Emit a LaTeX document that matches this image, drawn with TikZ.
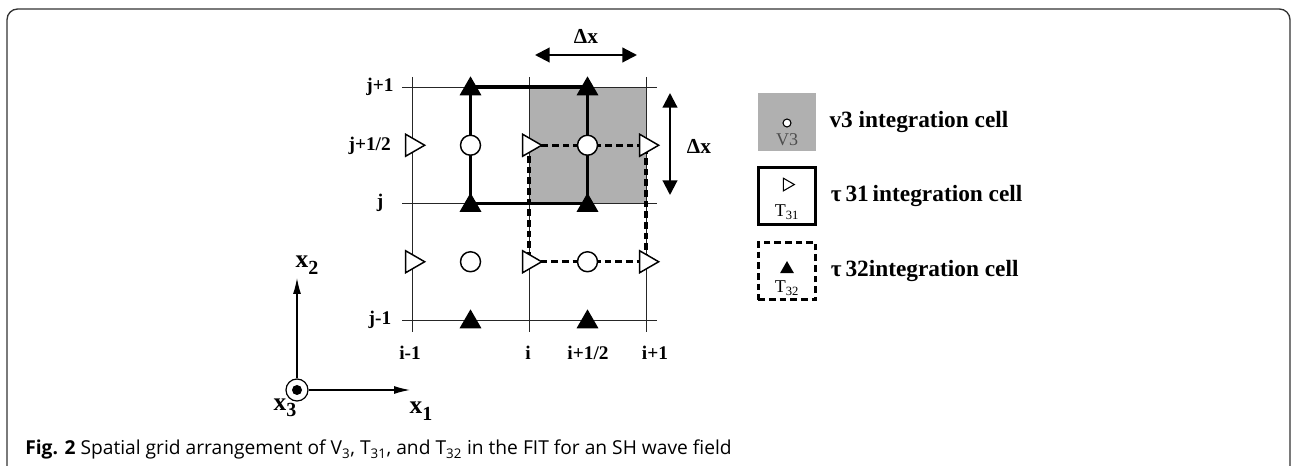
\documentclass[tikz,border=0pt]{standalone}
\usepackage{fontspec}
\setmainfont{Liberation Serif}
\newfontfamily\capfont{Open Sans}
\usetikzlibrary{shapes.geometric, arrows.meta, positioning, calc}
\definecolor{cellgray}{HTML}{B0B0B0}
\definecolor{framecol}{HTML}{333333}
\tikzstyle{arrow}=[{Triangle[length=11pt,width=11pt]}-{Triangle[length=11pt,width=11pt]}, line width=1.6pt]
\tikzstyle{axis}=[-{Latex[length=12pt,width=6pt]}, line width=0.9pt]
\newcommand{\axsub}[1]{\raisebox{-0.55ex}{\fontsize{15}{15}\selectfont #1}}

\begin{document}
\begin{tikzpicture}[x=0.75pt, y=-0.75pt,
  gridline/.style={line width=0.6pt, black!85},
  cellline/.style={line width=2.4pt},
  celldash/.style={line width=2.4pt, dash pattern=on 5pt off 3pt},
  vdot/.style={circle, draw, fill=white, line width=1.1pt,
               minimum size=15pt, inner sep=0pt},
  tone/.style={regular polygon, regular polygon sides=3, shape border rotate=-90,
               draw, fill=white, line width=1.1pt, minimum size=19pt, inner sep=0pt},
  ttwo/.style={regular polygon, regular polygon sides=3, fill=black,
               minimum size=19pt, inner sep=0pt, yshift=-1.5pt},
  lab/.style={font=\fontsize{14.5}{17}\selectfont\bfseries, inner sep=0pt},
  dxlab/.style={font=\fontsize{16}{18}\selectfont\bfseries, inner sep=0pt},
  axlab/.style={font=\fontsize{19}{21}\selectfont\bfseries, inner sep=0pt},
  cellbox/.style={rectangle, minimum size=43pt, inner sep=0pt},
  legtext/.style={font=\fontsize{17.5}{20}\selectfont\bfseries, inner sep=0pt, anchor=west},
  boxtext/.style={font=\fontsize{13.5}{15}\selectfont, inner sep=0pt}
]
\useasboundingbox (0,0) rectangle (1293,466);
% frame, open at the bottom
\draw[framecol, line width=1pt, rounded corners=8pt] (7,466) -- (7,9) -- (1290,9) -- (1290,466);

% grid points (i-1 .. i+1, j-1 .. j+1 in half steps)
\foreach \k in {0,...,4}
  \foreach \m in {0,...,4}
    \coordinate (g\k\m) at ({412+58.5*\k},{320-58.25*\m});

\fill[cellgray] (g24) rectangle (g42);
\foreach \m in {0,2,4}
  \draw[gridline] ([xshift=-7.5pt]g0\m) -- ([xshift=8.25pt]g4\m);
\foreach \k in {0,2,4}
  \draw[gridline] ([yshift=7.5pt]g\k4) -- ([yshift=-9pt]g\k0);

\draw[cellline] (g14) rectangle (g32);
\draw[celldash] (g23) rectangle (g41);

% markers
\foreach \k in {0,2,4}
  \foreach \m in {1,3}
    \node[tone] (s\k\m) at (g\k\m) {};
\foreach \k in {1,3}
  \foreach \m in {1,3}
    \node[vdot] (v\k\m) at (g\k\m) {};
\foreach \k in {1,3}
  \foreach \m in {0,2,4}
    \node[ttwo] (p\k\m) at (g\k\m) {};

% grid labels
\node[lab] (jp1) at (380,87) {j+1};
\node[lab, anchor=east] (jph) at (391,146) {j+1/2};
\node[lab] (j0) at (380,203) {j};
\node[lab] (jm1) at (380,320) {j-1};
\node[lab] (im1) at (410,353) {i-1};
\node[lab] (i0) at (528,353) {i};
\node[lab] (iph) at (588,353) {i+1/2};
\node[lab] (ip1) at (655,353) {i+1};

% cell size
\coordinate (dxa) at (535,55);
\coordinate (dxb) at (637,55);
\draw[arrow] (dxa) -- (dxb);
\node[dxlab] (dxt) at (586,36) {Δx};
\coordinate (dya) at (670,93);
\coordinate (dyb) at (670,195);
\draw[arrow] (dya) -- (dyb);
\node[dxlab] (dyt) at (699,146) {Δx};

% legend
\node[cellbox, fill=cellgray] (lv) at (787,122) {};
\node[cellbox, draw, cellline, below=11pt of lv] (lt) {};
\node[cellbox, draw, celldash, below=11pt of lt] (lp) {};
\node[legtext, right=10pt of lv] (lvt) {v3 integration cell};
\node[legtext, right=10pt of lt] (ltt) {τ\,31\,integration cell};
\node[legtext, right=10pt of lp] (lpt) {τ\,32integration cell};
\node[circle, draw, fill=white, line width=0.8pt, minimum size=6pt, inner sep=0pt] (lvc)
  at ([yshift=-0.75pt]lv.center) {};
\node[boxtext, text=black!70] (lvn) at ([yshift=-13.5pt]lv.center) {V3};
\node[regular polygon, regular polygon sides=3, shape border rotate=-90, draw,
      line width=0.8pt, minimum size=11pt, inner sep=0pt] (ltm) at ([yshift=8.5pt]lt.center) {};
\node[boxtext] (ltn) at ([yshift=-12.5pt]lt.center) {T\textsubscript{31}};
\node[regular polygon, regular polygon sides=3, fill=black,
      minimum size=12pt, inner sep=0pt] (lpm) at ([yshift=1.5pt]lp.center) {};
\node[boxtext] (lpn) at ([yshift=-13pt]lp.center) {T\textsubscript{32}};

% axes
\node[circle, draw, line width=0.9pt, minimum size=16.5pt, inner sep=0pt] (ox) at (297,390) {};
\node[circle, fill=black, minimum size=7.5pt, inner sep=0pt] (oxd) at (ox.center) {};
\coordinate (x1e) at (410,390);
\coordinate (x2e) at (297,278);
\draw[axis] (ox) -- (x1e);
\draw[axis] (ox) -- (x2e);
\node[axlab] (x1l) at (421,411) {x\axsub{1}};
\node[axlab] (x2l) at (307,265) {x\axsub{2}};
\node[axlab] (x3l) at (285,408) {x\axsub{3}};

% caption
\node[anchor=base west, inner sep=0pt, font=\capfont\fontsize{14.4}{17}\selectfont] (cap) at (25,455)
  {\textbf{Fig. 2} Spatial grid arrangement of V\textsubscript{3}, T\textsubscript{31}, and T\textsubscript{32} in the FIT for an SH wave field};
\end{tikzpicture}
\end{document}
